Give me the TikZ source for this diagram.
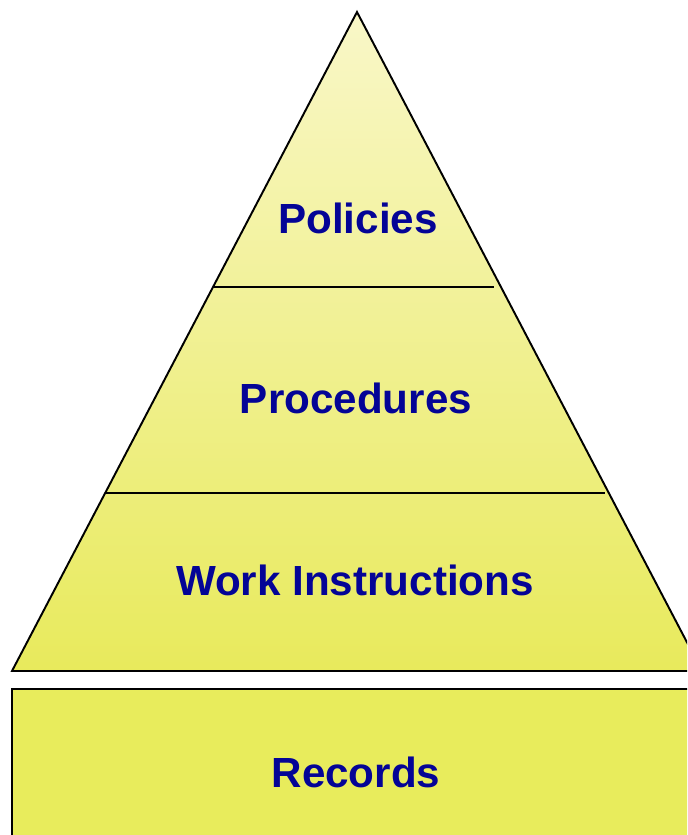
\documentclass[tikz,border=0pt]{standalone}
\usepackage{fontspec}
\setmainfont{Liberation Sans}
\definecolor{tierlight}{RGB}{249,247,200}
\definecolor{tierdark}{RGB}{232,234,92}
\definecolor{recfill}{RGB}{232,236,92}
\definecolor{tiertext}{RGB}{4,4,150}
\tikzset{
  tierlabel/.style={font=\fontsize{24}{28}\selectfont\bfseries, text=tiertext},
  tieredge/.style={draw=black, line width=1.1pt}
}
\begin{document}
\begin{tikzpicture}[x=0.02cm, y=-0.02cm]
\useasboundingbox (0,0) rectangle (687,835);
\clip (0,0) rectangle (687,835);
\coordinate (apex) at (357,12);
\coordinate (baseL) at (12,671);
\coordinate (baseR) at (702,671);
\coordinate (midL) at (213,287);
\coordinate (midR) at (494,287);
\coordinate (lowL) at (105,493);
\coordinate (lowR) at (605,493);
\shade[top color=tierlight, bottom color=tierdark] (apex) -- (baseR) -- (baseL) -- cycle;
\draw[tieredge, line join=miter] (apex) -- (baseR) -- (baseL) -- cycle;
\draw[tieredge] (midL) -- (midR);
\draw[tieredge] (lowL) -- (lowR);
\coordinate (recNW) at (12,689);
\coordinate (recSE) at (702,845);
\fill[recfill] (recNW) rectangle (recSE);
\draw[tieredge] (recNW) rectangle (recSE);
\node[tierlabel] (policies) at (358,218) {Policies};
\node[tierlabel] (procedures) at (356,398) {Procedures};
\node[tierlabel] (workinstr) at (355,580) {Work Instructions};
\node[tierlabel] (records) at (356,772) {Records};
\end{tikzpicture}
\end{document}
